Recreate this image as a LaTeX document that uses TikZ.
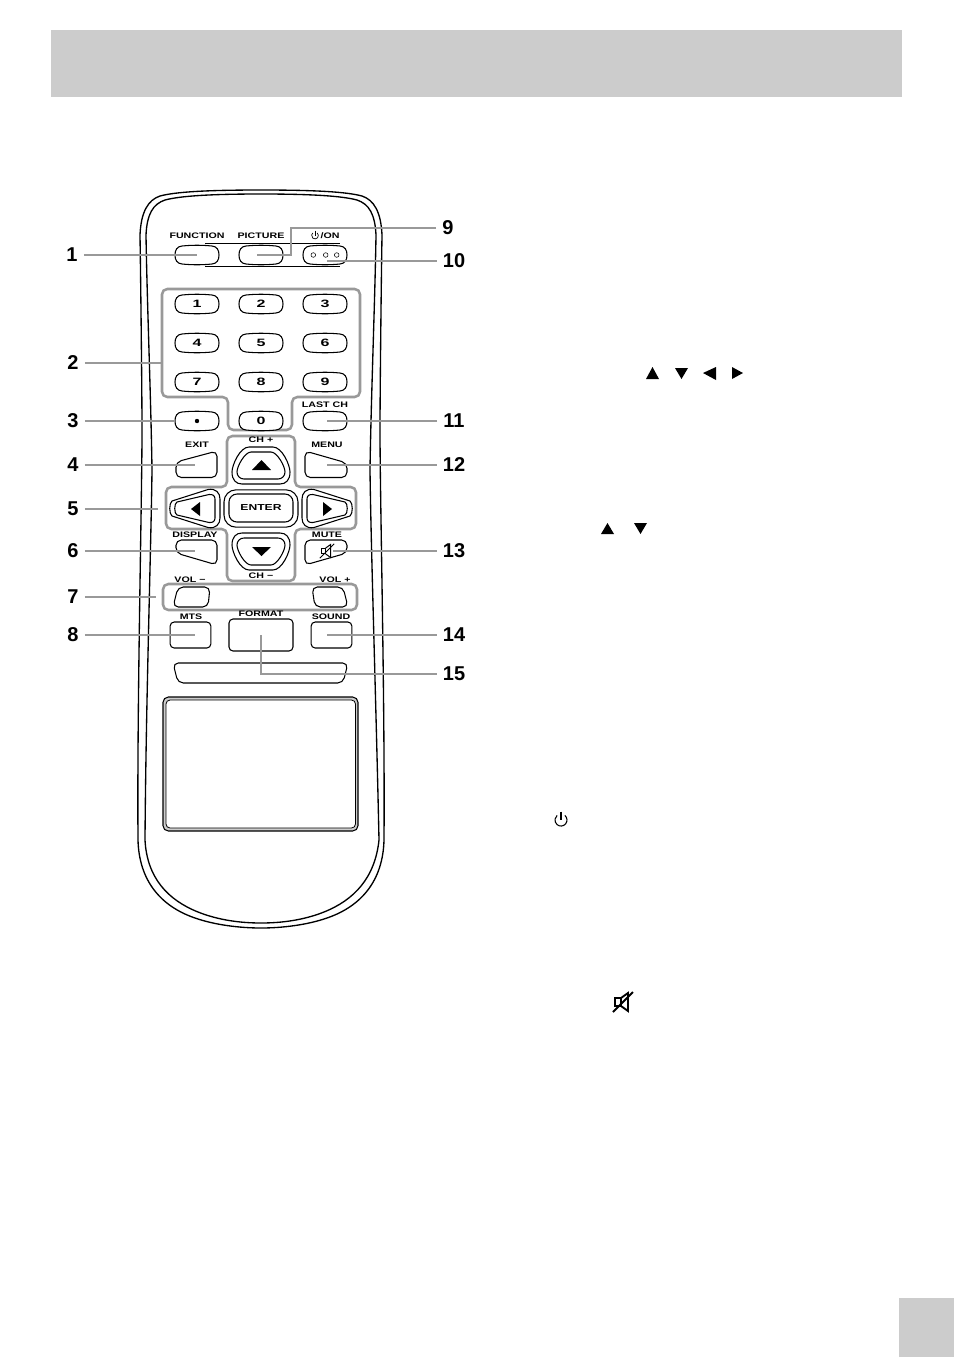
\documentclass[tikz,border=0pt]{standalone}
\usepackage{fontspec}
\setmainfont{Liberation Sans}
\definecolor{band}{HTML}{CCCCCC}
\definecolor{lead}{HTML}{999999}
\tikzset{
    mutesign/.pic = {
        \draw (-8,-4) rectangle (-2,4);
        \draw[line join=miter] (-2,-4) -- (5,-9) -- (5,9) -- (-2,4);
        \draw (-10,10) -- (10,-10);
    },
    powersign/.pic = {
        \draw (3.2,-3.8) arc (-50:230:5);
        \draw (0,-7) -- (0,0);
    },
    barrel/.pic = {
        \draw[fill=white, line width=.8pt] (-15,-9) .. controls (-5,-10) and (5,-10) .. (15,-9) .. controls (20,-8.5) and (22,-5) .. (22,0)
            .. controls (22,5) and (20,8.5) .. (15,9) .. controls (5,10) and (-5,10) .. (-15,9)
            .. controls (-20,8.5) and (-22,5) .. (-22,0) .. controls (-22,-5) and (-20,-8.5) .. (-15,-9);
    }
}
\newcommand{\keyat}[3]{\pic at (#2) {barrel}; \node[digit] (#1) at (#2) {#3};}
\begin{document}
\begin{tikzpicture}
            [
                x = .75pt, y = -.75pt,
                key/.style = {draw, fill=white, line width=.8pt, inner sep=0pt, rounded corners=3pt},
                digit/.style = {transform shape, xscale=1.5, minimum width=22pt, minimum height=14.5pt, inner sep=0pt, font=\bfseries\fontsize{8}{8}\selectfont},
                shaped/.style = {draw, fill=white, rounded corners=4pt, line width=.8pt},
                curved/.style = {draw, fill=white, line width=.8pt},
                rim/.style = {draw, line width=1pt},
                group/.style = {draw=lead, line width=1.9pt, rounded corners=4pt},
                wire/.style = {draw=lead, line width=1.7pt},
                tag/.style = {transform shape, xscale=1.33, font=\bfseries\fontsize{6}{5}\selectfont, inner sep=0pt},
                num/.style = {font=\bfseries\fontsize{15}{15}\selectfont, inner sep=4.5pt}
            ]
            \useasboundingbox (0,0) rectangle (954,1357);
            \fill[band] (51,30) rectangle (902,97);
            \fill[band] (899,1298) rectangle (954,1357);
            % body of the remote
            \path[rim] (261,190) .. controls (205,190) and (175,192) .. (160,196) .. controls (148,200) and (141,212) .. (140,235)
                .. controls (141,300) and (142,400) .. (142,430) .. controls (142,500) and (137,700) .. (138,840)
                .. controls (139,880) and (160,906) .. (195,918) .. controls (215,925) and (240,928) .. (261,928)
                .. controls (282,928) and (307,925) .. (327,918) .. controls (362,906) and (383,880) .. (384,840)
                .. controls (385,700) and (380,500) .. (380,430) .. controls (380,400) and (381,300) .. (382,235)
                .. controls (381,212) and (374,200) .. (362,196) .. controls (347,192) and (317,190) .. (261,190);
            \path[rim] (261,194) .. controls (210,194) and (180,196) .. (165,200) .. controls (153,204) and (147,214) .. (146,235)
                .. controls (147,300) and (151,400) .. (152,470) .. controls (151,550) and (146,700) .. (145,840)
                .. controls (147,878) and (168,900) .. (198,912) .. controls (218,920) and (240,923) .. (261,923)
                .. controls (282,923) and (304,920) .. (324,912) .. controls (354,900) and (375,878) .. (379,840)
                .. controls (376,700) and (371,550) .. (370,470) .. controls (371,400) and (375,300) .. (376,235)
                .. controls (375,214) and (369,204) .. (357,200) .. controls (342,196) and (312,194) .. (261,194);
            % window
            \draw[fill=band, line width=.8pt, rounded corners=4pt] (163,697) rectangle (358,831);
            \draw[fill=white, line width=.6pt, rounded corners=3pt] (166,700) rectangle (355.5,828);
            % groups
            \draw[group] (162,397) -- (162,289) -- (360,289) -- (360,397) -- (292,397) -- (292,430) -- (228,430) -- (228,397) -- cycle;
            \draw[group] (227,436) -- (295,436) -- (295,487) -- (356,487) -- (356,529) -- (295,529) -- (295,581) -- (227,581) -- (227,529) -- (166,529) -- (166,487) -- (227,487) -- cycle;
            \draw[group] (163,584) rectangle (357,610);
            \draw[line width=.8pt] (205,243.5) -- (340,243.5);
            \draw[line width=.8pt] (205,266.5) -- (340,266.5);
            % labels above the keys
            \node[tag] (tfunction) at (197,236) {FUNCTION};
            \node[tag] (tpicture) at (261,236) {PICTURE};
            \node[tag] (ton) at (330,236) {/ON};
            \pic[scale=.68, line width=.5pt] at (315,235.5) {powersign};
            \node[tag] (tlast) at (325,405) {LAST CH};
            \node[tag] (texit) at (197,445) {EXIT};
            \node[tag] (tmenu) at (327,445) {MENU};
            \node[tag] (tchup) at (261,440) {CH +};
            \node[tag] (tdisplay) at (195,535) {DISPLAY};
            \node[tag] (tmute) at (327,535) {MUTE};
            \node[tag] (tchdown) at (261,576) {CH −};
            \node[tag] (tvoldown) at (190,580) {VOL −};
            \node[tag] (tvolup) at (335,580) {VOL +};
            \node[tag] (tmts) at (191,617) {MTS};
            \node[tag] (tformat) at (261,614) {FORMAT};
            \node[tag] (tsound) at (331,617) {SOUND};
            % keys
            \keyat{function}{197,255}{}
            \keyat{picture}{261,255}{}
            \keyat{power}{325,255}{}
            \draw (313.3,255) circle (2.3);
            \draw (325.7,255) circle (2.3);
            \draw (336.7,255) circle (2.3);
            \keyat{k1}{197,304}{1}
            \keyat{k2}{261,304}{2}
            \keyat{k3}{325,304}{3}
            \keyat{k4}{197,343}{4}
            \keyat{k5}{261,343}{5}
            \keyat{k6}{325,343}{6}
            \keyat{k7}{197,382}{7}
            \keyat{k8}{261,382}{8}
            \keyat{k9}{325,382}{9}
            \keyat{dot}{197,421}{}
            \fill (197,421) circle (2.2);
            \keyat{k0}{261,421}{0}
            \keyat{last}{325,421}{}
            % shaped keys
            \path[shaped] (176,477.5) -- (176,462) -- (217,451) -- (217,477.5) -- cycle;
            \path[shaped] (305,477.5) -- (305,451) -- (347,463) -- (347,477.5) -- cycle;
            \path[shaped] (176,540) -- (217,540) -- (217,565) -- (176,553) -- cycle;
            \path[shaped] (305,540) -- (347,540) -- (347,553) -- (305,565) -- cycle;
            \path[shaped] (178,587) -- (210,587) -- (208,607) -- (173,607) -- cycle;
            \path[shaped] (312,587) -- (343,587) -- (348,607) -- (315,607) -- cycle;
            \path[shaped] (173,663) -- (348,663) -- (343,683) -- (178,683) -- cycle;
            \node[key, minimum width=30.5pt, minimum height=19.5pt] (mts) at (190.5,635) {};
            \node[key, minimum width=48pt, minimum height=24pt] (format) at (261,635) {};
            \node[key, minimum width=30.5pt, minimum height=19.5pt] (sound) at (331.5,635) {};
            \coordinate (exit) at (195,465);
            \coordinate (menu) at (327,465);
            \coordinate (display) at (195,551);
            \coordinate (mute) at (333,551);
            % arrow keys
            \path[curved] (249,447) -- (273,447) .. controls (282,447) and (290,465) .. (290,472) .. controls (290,480) and (286,484) .. (280,484) -- (242,484) .. controls (236,484) and (232,480) .. (232,472) .. controls (232,465) and (240,447) .. (249,447);
            \path[curved] (251,452) -- (271,452) .. controls (277,452) and (285,466) .. (285,472) .. controls (285,476) and (282,479) .. (278,479) -- (244,479) .. controls (240,479) and (237,476) .. (237,472) .. controls (237,466) and (245,452) .. (251,452);
            \path[curved] (249,570) -- (273,570) .. controls (282,570) and (290,552) .. (290,545) .. controls (290,537) and (286,533) .. (280,533) -- (242,533) .. controls (236,533) and (232,537) .. (232,545) .. controls (232,552) and (240,570) .. (249,570);
            \path[curved] (251,565) -- (271,565) .. controls (277,565) and (285,551) .. (285,545) .. controls (285,541) and (282,538) .. (278,538) -- (244,538) .. controls (240,538) and (237,541) .. (237,545) .. controls (237,551) and (245,565) .. (251,565);
            \path[curved] (172,501) -- (208,489.5) .. controls (216,488) and (220,493) .. (220,499) -- (220,518) .. controls (220,524) and (216,529) .. (208,527.5) -- (172,516) .. controls (169,514) and (169,503) .. (172,501);
            \path[curved] (177,502) -- (209,494.5) .. controls (213,494) and (215,496) .. (215,499) -- (215,518) .. controls (215,521) and (213,523) .. (209,522.5) -- (177,515) .. controls (174,514) and (174,503) .. (177,502);
            \path[curved] (350,501) -- (314,489.5) .. controls (306,488) and (302,493) .. (302,499) -- (302,518) .. controls (302,524) and (306,529) .. (314,527.5) -- (350,516) .. controls (353,514) and (353,503) .. (350,501);
            \path[curved] (345,502) -- (313,494.5) .. controls (309,494) and (307,496) .. (307,499) -- (307,518) .. controls (307,521) and (309,523) .. (313,522.5) -- (345,515) .. controls (348,514) and (348,503) .. (345,502);
            \node[key, minimum width=55.5pt, minimum height=28pt, rounded corners=9pt] (enterout) at (261,508.5) {};
            \node[key, transform shape, xscale=1.4, font=\bfseries\fontsize{6.5}{6}\selectfont, minimum width=34.3pt, minimum height=21pt, rounded corners=6pt] (enter) at (261,508) {ENTER};
            \fill (252,470) -- (271,470) -- (261.5,460) -- cycle;
            \fill (252,547) -- (271,547) -- (261.5,556) -- cycle;
            \fill (191,509) -- (200,502) -- (200,516) -- cycle;
            \fill (332,509) -- (323,502) -- (323,516) -- cycle;
            \pic[scale=.72, line width=.75pt] at (327,551) {mutesign};
            % numbers
            \node[num] (n1) at (72,255) {1};
            \node[num] (n2) at (73,363) {2};
            \node[num] (n3) at (73,421) {3};
            \node[num] (n4) at (73,465) {4};
            \node[num] (n5) at (73,509) {5};
            \node[num] (n6) at (73,551) {6};
            \node[num] (n7) at (73,597) {7};
            \node[num] (n8) at (73,635) {8};
            \node[num] (n9) at (448,228) {9};
            \node[num] (n10) at (454,261) {10};
            \node[num] (n11) at (454,421) {11};
            \node[num] (n12) at (454,465) {12};
            \node[num] (n13) at (454,551) {13};
            \node[num] (n14) at (454,635) {14};
            \node[num] (n15) at (454,674) {15};
            \coordinate (group2) at (162,363);
            \coordinate (group5) at (158,509);
            \coordinate (group7) at (156,597);
            \coordinate (picturein) at (257,255);
            \coordinate (powerin) at (327,261);
            \coordinate (lastin) at (327,421);
            \coordinate (soundin) at (327,635);
            \coordinate (mtsin) at (195,635);
            \path[wire] (n1) -- (function.center);
            \path[wire] (n2) -- (group2);
            \path[wire] (n3) -- (dot.west);
            \path[wire] (n4) -- (exit);
            \path[wire] (n5) -- (group5);
            \path[wire] (n6) -- (display);
            \path[wire] (n7) -- (group7);
            \path[wire] (n8) -- (mtsin);
            \path[wire] (n9) -| (291,255) -- (picturein);
            \path[wire] (n10) -- (powerin);
            \path[wire] (n11) -- (lastin);
            \path[wire] (n12) -- (menu);
            \path[wire] (n13) -- (mute);
            \path[wire] (n14) -- (soundin);
            \path[wire] (n15) -| (format.center);
            % signs in the empty text column
            \fill (646,379) -- (659,379) -- (652.5,367) -- cycle;
            \fill (675,368) -- (688,368) -- (681.5,379) -- cycle;
            \fill (703,373) -- (716,367) -- (716,380) -- cycle;
            \fill (732,367) -- (732,379) -- (743,373) -- cycle;
            \fill (601,534) -- (614,534) -- (607.5,523) -- cycle;
            \fill (634,523) -- (647,523) -- (640.5,534) -- cycle;
            \pic[scale=1.2, line width=.8pt] at (561,820) {powersign};
            \pic[line width=1.4pt] at (623,1002) {mutesign};
        \end{tikzpicture}
\end{document}
